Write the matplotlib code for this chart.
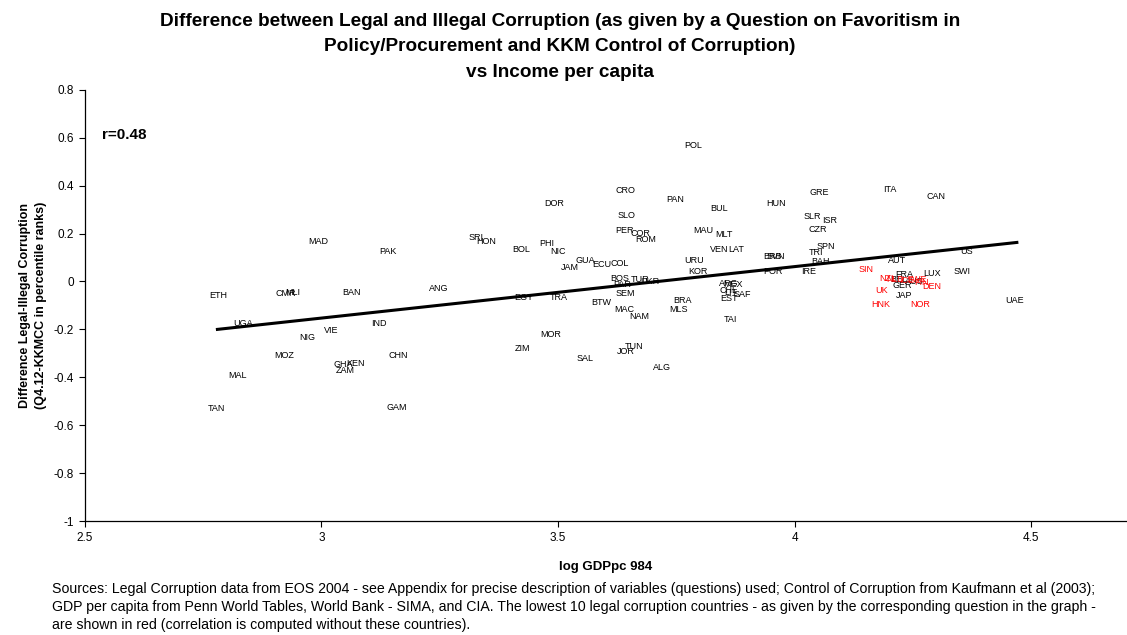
import matplotlib
matplotlib.use("Agg")
import matplotlib.pyplot as plt

plt.rcParams['font.family'] = ['Liberation Sans', 'DejaVu Sans']

# country labels with (log GDP pc, legal - illegal corruption)
countries = ["ETH", "UGA", "MAL", "TAN", "MOZ", "NIG", "VIE", "CMR", "MLI", "MAD",
             "PAK", "BAN", "IND", "CHN", "GHA", "KEN", "ZAM", "GAM", "ANG", "SRI",
             "HON", "BOL", "PHI", "NIC", "DOR", "JAM", "GUA", "ECU", "COL", "CRO",
             "SLO", "PER", "COR", "ROM", "PAN", "POL", "BUL", "MAU", "MLT", "VEN",
             "LAT", "URU", "KOR", "EGY", "TRA", "BTW", "MAC", "NAM", "SEM", "BRA",
             "MLS", "TAI", "MOR", "ZIM", "SAL", "TUN", "JOR", "ALG", "BOS", "TUR",
             "PAR", "UKR", "ARG", "MEX", "CHL", "LIT", "SAF", "EST", "HUN", "GRE",
             "SLR", "ISR", "CZR", "SPN", "TRI", "BAH", "BRB", "SVN", "POR", "IRE",
             "ITA", "CAN", "AUT", "US", "SWI", "LUX", "FRA", "BEL", "AUS", "GER",
             "JAP", "UAE"]
log_gdp = [2.781, 2.834, 2.823, 2.777, 2.921, 2.969, 3.020, 2.925, 2.940, 2.993,
           3.141, 3.064, 3.122, 3.162, 3.046, 3.072, 3.050, 3.160, 3.248, 3.327,
           3.348, 3.422, 3.477, 3.500, 3.492, 3.525, 3.557, 3.593, 3.631, 3.642,
           3.644, 3.640, 3.675, 3.686, 3.747, 3.785, 3.840, 3.807, 3.851, 3.840,
           3.876, 3.787, 3.796, 3.428, 3.502, 3.591, 3.640, 3.671, 3.642, 3.764,
           3.754, 3.864, 3.485, 3.424, 3.557, 3.661, 3.644, 3.720, 3.631, 3.673,
           3.635, 3.694, 3.860, 3.870, 3.860, 3.865, 3.890, 3.862, 3.961, 4.052,
           4.037, 4.075, 4.050, 4.067, 4.045, 4.054, 3.953, 3.960, 3.955, 4.029,
           4.202, 4.299, 4.217, 4.363, 4.354, 4.291, 4.231, 4.221, 4.253, 4.227,
           4.231, 4.466]
diff = [-0.058, -0.175, -0.392, -0.529, -0.308, -0.233, -0.204, -0.050, -0.046, 0.167,
        0.125, -0.046, -0.175, -0.308, -0.346, -0.342, -0.371, -0.525, -0.029, 0.183,
        0.167, 0.133, 0.158, 0.125, 0.325, 0.058, 0.088, 0.071, 0.075, 0.379,
        0.275, 0.213, 0.200, 0.175, 0.342, 0.567, 0.304, 0.213, 0.196, 0.133,
        0.133, 0.088, 0.042, -0.067, -0.067, -0.088, -0.117, -0.146, -0.050, -0.079,
        -0.117, -0.158, -0.221, -0.279, -0.321, -0.271, -0.292, -0.358, 0.013, 0.008,
        -0.013, 0.000, -0.008, -0.013, -0.038, -0.046, -0.054, -0.071, 0.325, 0.371,
        0.271, 0.254, 0.217, 0.146, 0.121, 0.083, 0.104, 0.104, 0.042, 0.042,
        0.383, 0.354, 0.088, 0.125, 0.042, 0.033, 0.029, 0.008, 0.000, -0.017,
        -0.058, -0.079]

# lowest 10 legal corruption countries (red)
red_countries = ["SIN", "NZL", "NLD", "ICE", "SWE", "FIN", "DEN", "UK", "HNK", "NOR"]
red_log_gdp = [4.151, 4.198, 4.212, 4.236, 4.259, 4.268, 4.291, 4.183, 4.183, 4.265]
red_diff = [0.050, 0.013, 0.008, 0.004, 0.008, -0.004, -0.021, -0.038, -0.096, -0.096]

# fitted trend line end points
fit_x = [2.78, 4.47]
fit_y = [-0.200, 0.163]

title = ("Difference between Legal and Illegal Corruption (as given by a Question on Favoritism in\n"
         "Policy/Procurement and KKM Control of Corruption)\n"
         "vs Income per capita")
footnote = ("Sources: Legal Corruption data from EOS 2004 - see Appendix for precise description of variables (questions) used; "
            "Control of Corruption from Kaufmann et al (2003);\n"
            "GDP per capita from Penn World Tables, World Bank - SIMA, and CIA. The lowest 10 legal corruption countries - "
            "as given by the corresponding question in the graph -\n"
            "are shown in red (correlation is computed without these countries).")

fig = plt.figure(figsize=(11.27, 6.35), dpi=100)
ax = fig.add_axes([0.0754, 0.1795, 0.9234, 0.679])

ax.plot(fit_x, fit_y, color="black", linewidth=2.2, zorder=2)

for name, x, y in zip(countries, log_gdp, diff):
    ax.text(x, y, name, fontsize=6.5, ha="center", va="center", color="black", zorder=3)
for name, x, y in zip(red_countries, red_log_gdp, red_diff):
    ax.text(x, y, name, fontsize=6.5, ha="center", va="center", color="#ff0000", zorder=4)

ax.set_xlim(2.5, 4.7)
ax.set_ylim(-1.0, 0.8)
ax.set_xticks([2.5, 3, 3.5, 4, 4.5])
ax.set_xticklabels(["2.5", "3", "3.5", "4", "4.5"])
ax.set_yticks([-1, -0.8, -0.6, -0.4, -0.2, 0, 0.2, 0.4, 0.6, 0.8])
ax.set_yticklabels(["-1", "-0.8", "-0.6", "-0.4", "-0.2", "0", "0.2", "0.4", "0.6", "0.8"])
ax.tick_params(labelsize=8.5, length=4, width=0.8, direction="out", pad=4)

ax.spines["top"].set_visible(False)
ax.spines["right"].set_visible(False)
ax.spines["left"].set_linewidth(0.9)
ax.spines["bottom"].set_linewidth(0.9)

ax.text(0.016, 0.895, "r=0.48", transform=ax.transAxes, fontsize=11, fontweight="bold",
        ha="left", va="center")

ax.set_xlabel("log GDPpc 984", fontsize=9.5, fontweight="bold", labelpad=12)
ax.set_ylabel("Difference Legal-Illegal Corruption\n(Q4.12-KKMCC in percentile ranks)",
              fontsize=9, fontweight="bold", labelpad=5, linespacing=1.4)

fig.text(0.497, 0.872, title, ha="center", va="bottom", fontsize=13.7, fontweight="bold",
         linespacing=1.68)
fig.text(0.046, 0.005, footnote, ha="left", va="bottom", fontsize=10.2, linespacing=1.36)

fig.savefig("out.png", dpi=100)
